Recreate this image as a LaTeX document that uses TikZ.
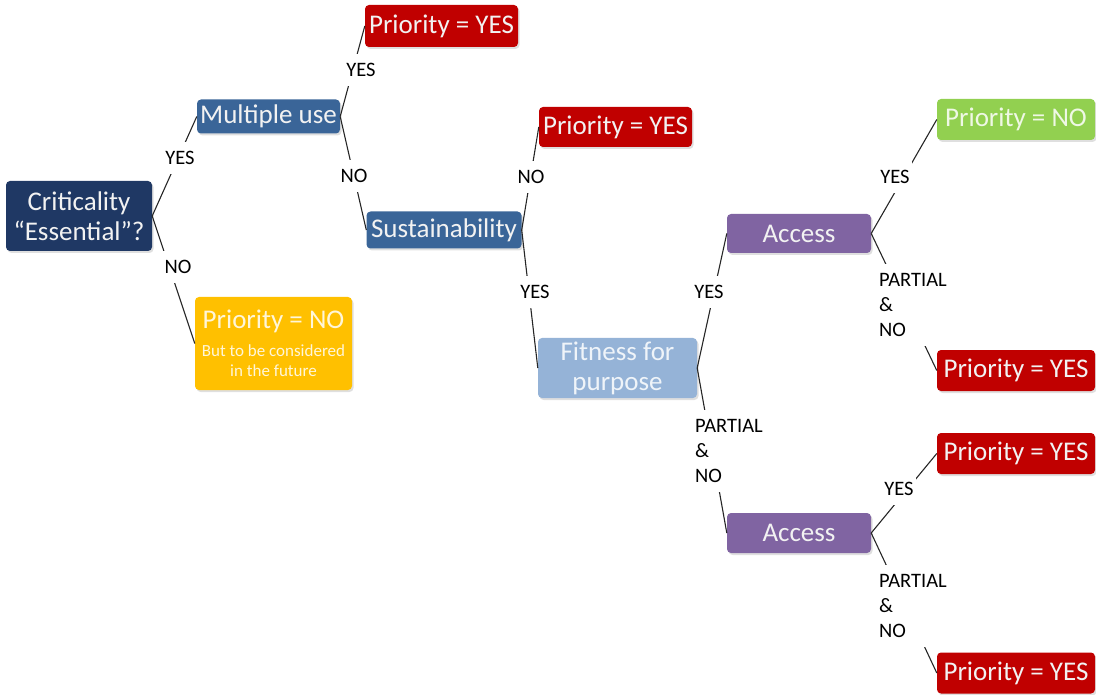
\documentclass[tikz,border=0pt]{standalone}
\usepackage{fontspec}
\setmainfont{Carlito}
\usetikzlibrary{shadows}

\definecolor{navy}{HTML}{1F3864}
\definecolor{steel}{HTML}{3A6598}
\definecolor{prred}{HTML}{C00000}
\definecolor{pale}{HTML}{95B3D7}
\definecolor{lilac}{HTML}{8064A2}
\definecolor{leaf}{HTML}{92D050}
\definecolor{amber}{HTML}{FFC000}

\tikzset{
  box/.style={rectangle, rounded corners=4pt, inner sep=2pt, text=white!95!black,
    font=\fontsize{27}{30}\selectfont,
    drop shadow={shadow xshift=1.5pt, shadow yshift=-2pt, opacity=0.25}},
  leafbox/.style={box, minimum width=158pt, minimum height=41pt},
  lbl/.style={fill=white, inner xsep=2pt, inner ysep=9pt, align=left,
    font=\fontsize{20.5}{25}\selectfont},
  link/.style={draw=black!85, line width=1.1pt},
}

\begin{document}
\begin{tikzpicture}[x=1pt,y=-1pt]
\useasboundingbox (0,0) rectangle (1096,695);

%Decision boxes
\node[box, fill=navy, align=center, minimum width=146pt, minimum height=70pt] (crit) at (79,216) {Criticality\\“Essential”?};
\node[box, fill=steel, minimum width=143pt, minimum height=34pt] (multi) at (268.5,116.5) {Multiple use};
\node[box, fill=steel, minimum width=155pt, minimum height=37pt] (sust) at (444,230) {Sustainability};
\node[box, fill=pale, text=white!85!pale, align=center, minimum width=159pt, minimum height=60pt] (fit) at (617.5,368) {Fitness for\\purpose};
\node[box, fill=lilac, minimum width=144pt, minimum height=39pt] (acca) at (799,233.5) {Access};
\node[box, fill=lilac, minimum width=144pt, minimum height=40pt] (accb) at (799,533) {Access};

%Outcome boxes
\node[box, fill=amber, text=white!85!amber, align=center, minimum width=157pt, minimum height=93pt, font=\fontsize{17}{20}\selectfont] (pno) at (273.5,343.5) {{\fontsize{27}{30}\selectfont Priority = NO}\\[8pt]But to be considered\\in the future};
\node[box, fill=prred, minimum width=153pt, minimum height=42pt] (pya) at (441.5,26) {Priority = YES};
\node[box, fill=prred, minimum width=153pt, minimum height=40pt] (pyb) at (615.5,127) {Priority = YES};
\node[leafbox, fill=leaf, text=white!85!leaf] (pnob) at (1016,119.5) {Priority = NO};
\node[leafbox, fill=prred] (pyc) at (1016,370.5) {Priority = YES};
\node[leafbox, fill=prred] (pyd) at (1016,453.5) {Priority = YES};
\node[leafbox, fill=prred] (pye) at (1016,673) {Priority = YES};

%Connectors
\draw[link] (crit.east) -- (multi.west);
\draw[link] (crit.east) -- (pno.west);
\draw[link] (multi.east) -- (pya.west);
\draw[link] (multi.east) -- (sust.west);
\draw[link] (sust.east) -- (pyb.west);
\draw[link] (sust.east) -- (fit.west);
\draw[link] (fit.east) -- (acca.west);
\draw[link] (fit.east) -- (accb.west);
\draw[link] (acca.east) -- (pnob.west);
\draw[link] (acca.east) -- (pyc.west);
\draw[link] (accb.east) -- (pyd.west);
\draw[link] (accb.east) -- (pye.west);

%Branch labels
\node[lbl] (crityes) at (180,158) {YES};
\node[lbl] (critno) at (178,267) {NO};
\node[lbl] (multiyes) at (361,70) {YES};
\node[lbl] (multino) at (354,176) {NO};
\node[lbl] (sustno) at (531,177) {NO};
\node[lbl] (sustyes) at (535,292) {YES};
\node[lbl] (fityes) at (709,292) {YES};
\node[lbl, anchor=west] (fitno) at (693,451) {PARTIAL\\\&\\NO};
\node[lbl] (accayes) at (895,177) {YES};
\node[lbl, anchor=west] (accano) at (877,305) {PARTIAL\\\&\\NO};
\node[lbl] (accbyes) at (899,489) {YES};
\node[lbl, anchor=west] (accbno) at (877,606) {PARTIAL\\\&\\NO};

\end{tikzpicture}
\end{document}
